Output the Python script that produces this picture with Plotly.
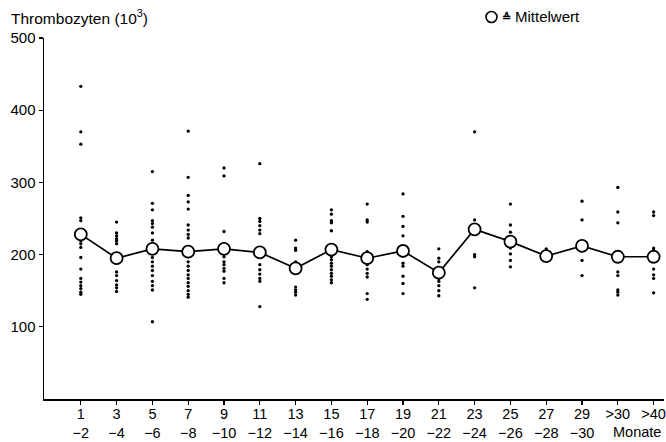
import plotly.graph_objects as go

# Category labels (two-line tick labels)
tick_top = ["1", "3", "5", "7", "9", "11", "13", "15", "17", "19", "21", "23", "25", "27", "29", ">30", ">40"]
tick_bottom = ["−2", "−4", "−6", "−8", "−10", "−12", "−14", "−16", "−18", "−20", "−22", "−24", "−26", "−28", "−30", "", ""]

# Mean values (Mittelwert) per category
means = [228, 195, 208, 204, 208, 203, 181, 207, 195, 205, 175, 235, 218, 198, 212, 197, 197]

# Individual values per category
dots_1_2 = [433, 370, 353, 251, 247, 224, 219, 215, 210, 196, 180, 167, 162, 157, 153, 148, 145]
dots_3_4 = [245, 230, 226, 222, 219, 215, 188, 176, 171, 164, 158, 154, 149]
dots_5_6 = [315, 271, 262, 247, 243, 238, 230, 220, 202, 196, 190, 184, 178, 171, 163, 157, 151, 107]
dots_7_8 = [371, 307, 282, 273, 263, 241, 234, 228, 223, 197, 190, 184, 178, 172, 167, 161, 156, 150, 145, 141]
dots_9_10 = [320, 309, 232, 197, 190, 186, 181, 177, 167, 161]
dots_11_12 = [326, 250, 246, 240, 234, 229, 197, 186, 179, 173, 167, 163, 128]
dots_13_14 = [220, 209, 206, 190, 186, 155, 151, 148, 144]
dots_15_16 = [262, 256, 247, 244, 233, 197, 193, 188, 184, 179, 174, 170, 165, 161]
dots_17_18 = [270, 248, 245, 204, 186, 180, 174, 169, 146, 138]
dots_19_20 = [284, 253, 239, 226, 188, 184, 170, 160, 146]
dots_21_22 = [208, 195, 190, 167, 163, 157, 150, 143]
dots_23_24 = [370, 248, 200, 197, 154]
dots_25_26 = [270, 241, 231, 223, 209, 201, 192, 183]
dots_27_28 = [208, 193]
dots_29_30 = [274, 248, 215, 192, 171]
dots_gt30 = [293, 259, 244, 176, 171, 151, 148, 144]
dots_gt40 = [259, 254, 209, 206, 180, 172, 167, 147]

all_dots = [dots_1_2, dots_3_4, dots_5_6, dots_7_8, dots_9_10, dots_11_12, dots_13_14,
            dots_15_16, dots_17_18, dots_19_20, dots_21_22, dots_23_24, dots_25_26,
            dots_27_28, dots_29_30, dots_gt30, dots_gt40]

positions = list(range(1, len(tick_top) + 1))

dx, dy = [], []
for p, vals in zip(positions, all_dots):
    for v in vals:
        dx.append(p)
        dy.append(v)

FONT = "Liberation Sans, Arial, sans-serif"

fig = go.Figure()
fig.add_trace(go.Scatter(
    x=dx, y=dy, mode="markers", cliponaxis=False,
    marker=dict(size=3.3, color="black", line=dict(width=0)),
    hoverinfo="skip", showlegend=False))
fig.add_trace(go.Scatter(
    x=positions, y=means, mode="lines+markers", cliponaxis=False,
    line=dict(color="black", width=1.7),
    marker=dict(size=12, color="white", symbol="circle", line=dict(color="black", width=1.8)),
    showlegend=False))

L, R, T, B = 44, 2, 38, 43
W, H = 666, 442
pw, ph = W - L - R, H - T - B

def px(xp):
    return (xp - L) / pw

def py(yp):
    return (H - B - yp) / ph

ticktext = [f"{a}<br>{b}" if b else a for a, b in zip(tick_top, tick_bottom)]

fig.update_layout(
    width=W, height=H,
    margin=dict(l=L, r=R, t=T, b=B, autoexpand=False),
    paper_bgcolor="white", plot_bgcolor="white",
    font=dict(family=FONT, size=14, color="black"),
    xaxis=dict(
        range=[-0.028, 17.29], showgrid=False, zeroline=False, automargin=False,
        showline=True, linecolor="black", linewidth=1.5,
        tickmode="array", tickvals=positions, ticktext=ticktext,
        ticks="outside", ticklen=4, tickwidth=1.2, tickcolor="black",
        ticklabelstandoff=-3,
        tickfont=dict(family=FONT, size=14.5, color="black"),
    ),
    yaxis=dict(
        range=[0, 500], showgrid=False, zeroline=False, automargin=False,
        showline=True, linecolor="black", linewidth=1.5,
        tickmode="array", tickvals=[100, 200, 300, 400, 500],
        ticktext=["100", "200", "300", "400", "500"],
        ticks="outside", ticklen=4, tickwidth=1.2, tickcolor="black",
        tickfont=dict(family=FONT, size=15, color="black"),
    ),
    annotations=[
        dict(text="Thrombozyten (10<sup>3</sup>)", xref="paper", yref="paper",
             x=px(9), y=py(17), xanchor="left", yanchor="middle", showarrow=False,
             font=dict(family=FONT, size=15.5, color="black")),
        dict(text="<b>≙</b>", xref="paper", yref="paper",
             x=px(506), y=py(17), xanchor="center", yanchor="middle", showarrow=False,
             font=dict(family=FONT, size=11, color="black")),
        dict(text="Mittelwert", xref="paper", yref="paper",
             x=px(513), y=py(17), xanchor="left", yanchor="middle", showarrow=False,
             font=dict(family=FONT, size=15, color="black")),
        dict(text="Monate", xref="paper", yref="paper",
             x=px(637), y=py(432), xanchor="center", yanchor="middle", showarrow=False,
             font=dict(family=FONT, size=14.5, color="black")),
    ],
    shapes=[
        dict(type="circle", xref="paper", yref="paper",
             x0=px(486), x1=px(497), y0=py(22.5), y1=py(11.5),
             line=dict(color="black", width=1.6), fillcolor="white"),
    ],
)

fig.write_html("out.html", config={"displayModeBar": False, "staticPlot": True},
               post_script="document.body.style.margin='0';document.body.style.overflow='hidden';")
